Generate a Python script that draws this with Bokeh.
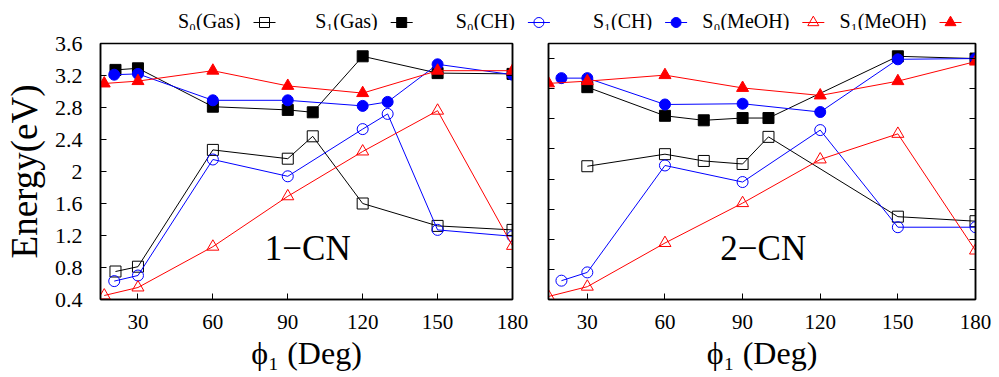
from bokeh.plotting import figure
from bokeh.layouts import column, row
from bokeh.models import FixedTicker, LinearAxis, Label, Range1d, CustomLabelingPolicy
from bokeh.embed import file_html
from bokeh.resources import INLINE
from bokeh.core.properties import value

# ---------------- data ----------------
# 1-CN panel
x_1cn_gas = [21, 30, 60, 90, 100, 120, 150, 180]
s0_1cn_gas = [0.75, 0.81, 2.27, 2.16, 2.44, 1.60, 1.32, 1.27]
s1_1cn_gas = [3.27, 3.29, 2.81, 2.77, 2.74, 3.44, 3.23, 3.22]
x_1cn_ch = [20.5, 30, 60, 90, 120, 130, 150, 180]
s0_1cn_ch = [0.63, 0.70, 2.15, 1.94, 2.53, 2.72, 1.27, 1.19]
s1_1cn_ch = [3.21, 3.22, 2.89, 2.89, 2.82, 2.87, 3.34, 3.21]
x_1cn_meoh = [16.5, 30, 60, 90, 120, 150, 180]
s0_1cn_meoh = [0.45, 0.55, 1.06, 1.69, 2.25, 2.76, 1.07]
s1_1cn_meoh = [3.10, 3.13, 3.26, 3.07, 2.98, 3.26, 3.26]

# 2-CN panel
x_2cn_gas = [30, 60, 75, 90, 100, 150, 180]
s0_2cn_gas = [2.17, 2.33, 2.24, 2.20, 2.56, 1.50, 1.44]
s1_2cn_gas = [3.22, 2.84, 2.78, 2.81, 2.81, 3.63, 3.60]
x_2cn_ch = [20, 30, 60, 90, 120, 150, 180]
s0_2cn_ch = [0.65, 0.76, 2.18, 1.96, 2.65, 1.36, 1.36]
s1_2cn_ch = [3.34, 3.34, 2.99, 3.00, 2.89, 3.59, 3.60]
x_2cn_meoh = [15, 30, 60, 90, 120, 150, 180]
s0_2cn_meoh = [0.44, 0.57, 1.15, 1.68, 2.26, 2.60, 1.05]
s1_2cn_meoh = [3.27, 3.30, 3.38, 3.21, 3.11, 3.30, 3.56]

x_ticks = [30, 60, 90, 120, 150, 180]
x_tick_labels = ["30", "60", "90", "120", "150", "180"]
y_ticks = [0.4, 0.8, 1.2, 1.6, 2.0, 2.4, 2.8, 3.2, 3.6]
y_tick_labels = ["0.4", "0.8", "1.2", "1.6", "2", "2.4", "2.8", "3.2", "3.6"]

series_names = ["S\u2080(Gas)", "S\u2081(Gas)", "S\u2080(CH)", "S\u2081(CH)", "S\u2080(MeOH)", "S\u2081(MeOH)"]
series_colors = ["#000000", "#000000", "#0000ff", "#0000ff", "#ff0000", "#ff0000"]
series_markers = ["square", "square", "circle", "circle", "triangle", "triangle"]
series_filled = [False, True, False, True, False, True]
series_sizes = [11, 11, 11, 11, 12, 12]

FONT = "Liberation Serif"


def no_labels():
    return CustomLabelingPolicy(code="return []")


def style_panel(p, show_ylabels):
    p.xgrid.visible = False
    p.ygrid.visible = False
    p.outline_line_color = "black"
    p.outline_line_width = 1.5
    p.background_fill_color = "white"
    p.border_fill_color = "white"
    # bottom axis
    xa = p.xaxis[0]
    xa.ticker = FixedTicker(ticks=x_ticks)
    xa.major_label_overrides = dict(zip(x_ticks, x_tick_labels))
    xa.major_tick_in = 6
    xa.major_tick_out = 0
    xa.minor_tick_in = 0
    xa.minor_tick_out = 0
    xa.axis_line_width = 1.5
    xa.major_label_text_font = FONT
    xa.major_label_text_font_size = "21px"
    xa.major_label_text_color = "black"
    xa.major_label_standoff = 15
    xa.axis_label = "\u03d5\u2081 (Deg)"
    xa.axis_label_text_font = FONT
    xa.axis_label_text_font_size = "32px"
    xa.axis_label_text_font_style = "normal"
    xa.axis_label_text_color = "black"
    xa.axis_label_standoff = 3
    # left axis
    ya = p.yaxis[0]
    ya.ticker = FixedTicker(ticks=y_ticks)
    ya.major_tick_in = 6
    ya.major_tick_out = 0
    ya.minor_tick_in = 0
    ya.minor_tick_out = 0
    ya.axis_line_width = 1.5
    if show_ylabels:
        ya.major_label_overrides = dict(zip(y_ticks, y_tick_labels))
        ya.major_label_text_font = FONT
        ya.major_label_text_font_size = "22px"
        ya.major_label_text_color = "black"
        ya.major_label_standoff = 18
        ya.axis_label = "Energy(eV)"
        ya.axis_label_text_font = FONT
        ya.axis_label_text_font_size = "37px"
        ya.axis_label_text_font_style = "normal"
        ya.axis_label_text_color = "black"
        ya.axis_label_standoff = 7
    else:
        ya.major_label_policy = no_labels()
        ya.major_label_standoff = 0
    # mirrored right axis with inward ticks
    ra = LinearAxis(ticker=FixedTicker(ticks=y_ticks))
    ra.major_tick_in = 6
    ra.major_tick_out = 0
    ra.minor_tick_in = 0
    ra.minor_tick_out = 0
    ra.axis_line_width = 1.5
    ra.major_label_policy = no_labels()
    ra.major_label_standoff = 0
    p.add_layout(ra, "right")


def draw_series(p, xs_list, ys_list):
    for i, (xs, ys) in enumerate(zip(xs_list, ys_list)):
        c = series_colors[i]
        p.line(xs, ys, line_color=c, line_width=1)
        p.scatter(xs, ys, marker=series_markers[i], size=series_sizes[i],
                  line_color=c, line_width=1,
                  fill_color=c if series_filled[i] else None)


PANEL_H = 347

# ---------------- left panel (1-CN) ----------------
left = figure(width=530, height=PANEL_H, x_range=Range1d(15, 180), y_range=Range1d(0.4, 3.6),
              output_backend="svg", toolbar_location=None,
              min_border_left=100, min_border_right=4, min_border_top=13, min_border_bottom=78)
style_panel(left, True)
draw_series(left,
            [x_1cn_gas, x_1cn_gas, x_1cn_ch, x_1cn_ch, x_1cn_meoh, x_1cn_meoh],
            [s0_1cn_gas, s1_1cn_gas, s0_1cn_ch, s1_1cn_ch, s0_1cn_meoh, s1_1cn_meoh])
left.add_layout(Label(x=98, y=1.04, text="1\u2212CN", text_font=FONT, text_font_size="35px",
                      text_align="center", text_baseline="middle", text_color="black"))

# ---------------- right panel (2-CN) ----------------
right = figure(width=469, height=PANEL_H, x_range=Range1d(15, 180), y_range=Range1d(0.4, 3.8),
               output_backend="svg", toolbar_location=None,
               min_border_left=18, min_border_right=24, min_border_top=13, min_border_bottom=78)
style_panel(right, False)
draw_series(right,
            [x_2cn_gas, x_2cn_gas, x_2cn_ch, x_2cn_ch, x_2cn_meoh, x_2cn_meoh],
            [s0_2cn_gas, s1_2cn_gas, s0_2cn_ch, s1_2cn_ch, s0_2cn_meoh, s1_2cn_meoh])
right.add_layout(Label(x=98, y=1.08, text="2\u2212CN", text_font=FONT, text_font_size="35px",
                       text_align="center", text_baseline="middle", text_color="black"))

# ---------------- legend strip ----------------
LEG_H = 30
leg = figure(width=999, height=LEG_H, x_range=Range1d(0, 999), y_range=Range1d(0, LEG_H),
             output_backend="svg", toolbar_location=None, min_border=0)
leg.axis.visible = False
leg.xgrid.visible = False
leg.ygrid.visible = False
leg.outline_line_color = None
leg.background_fill_color = "white"
leg.border_fill_color = "white"
text_y = 10
mark_y = 8
for i, name in enumerate(series_names):
    xm = 264 + 137.2 * i
    c = series_colors[i]
    leg.text([xm - 24], [text_y], text=[name], text_font=value(FONT), text_font_size="20px",
             text_align="right", text_baseline="middle", text_color="black")
    leg.line([xm - 11, xm + 11], [mark_y, mark_y], line_color=c, line_width=1)
    leg.scatter([xm], [mark_y], marker=series_markers[i], size=series_sizes[i] - 1,
                line_color=c, line_width=1, fill_color=c if series_filled[i] else None)

layout = column(leg, row(left, right))
open("out.html", "w").write(file_html(layout, INLINE))
